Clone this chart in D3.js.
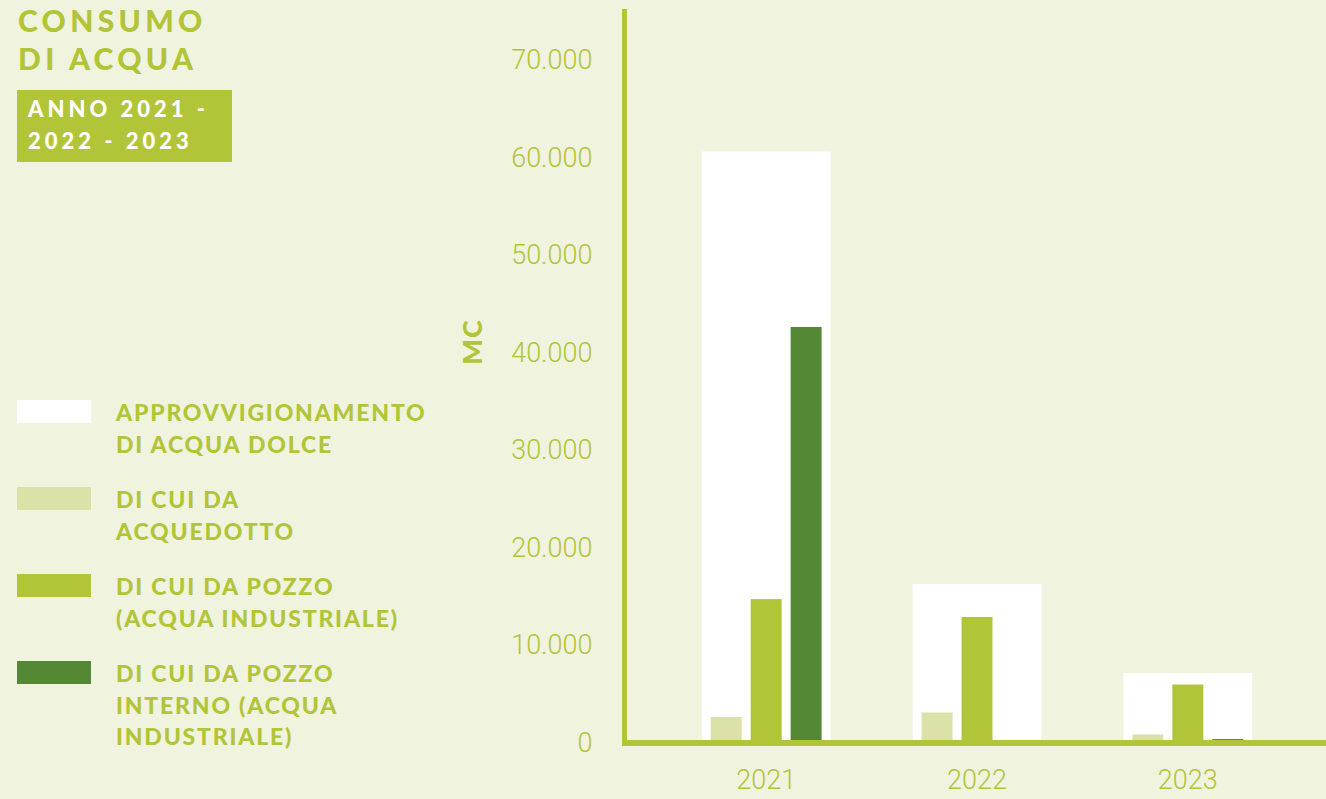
<!DOCTYPE html>
<html lang="it">
<head>
  <meta charset="UTF-8" />
  <title>Consumo di acqua</title>
  <script src="https://d3js.org/d3.v7.min.js"></script>
  <style>
    body {
      margin: 0;
      background: #f0f3de;
      overflow: hidden;
    }
    svg { display: block; }
    .tick text {
      font-family: Roboto, sans-serif;
      font-weight: 300;
      fill: #b2c437;
    }
    .bold {
      font-family: Lato, sans-serif;
      font-weight: 900;
    }
  </style>
</head>
<body>
  <svg id="chart"></svg>
  <script>
    // data (MC)
    const years = ["2021", "2022", "2023"];
    const seriesKeys = ["totale", "acquedotto", "pozzo", "pozzoInterno"];
    const totale = [60400, 16050, 6920];
    const acquedotto = [2410, 2870, 620];
    const pozzo = [14500, 12670, 5740];
    const pozzoInterno = [42410, 0, 150];
    const yTicks = [0, 10000, 20000, 30000, 40000, 50000, 60000, 70000];
    const legendLabels = [
      ["APPROVVIGIONAMENTO", "DI ACQUA DOLCE"],
      ["DI CUI DA", "ACQUEDOTTO"],
      ["DI CUI DA POZZO", "(ACQUA INDUSTRIALE)"],
      ["DI CUI DA POZZO", "INTERNO (ACQUA", "INDUSTRIALE)"]
    ];

    const colors = {
      totale: "#ffffff",
      acquedotto: "#dbe1a7",
      pozzo: "#b2c437",
      pozzoInterno: "#558834"
    };
    const green = "#b2c437";

    const W = 1326, H = 799;
    const svg = d3.select("#chart").attr("width", W).attr("height", H);

    const it = d3.formatLocale({ decimal: ",", thousands: ".", grouping: [3], currency: ["€", ""] });

    const x = d3.scaleBand().domain(years).range([626.5, 1327.5])
      .paddingInner(0.389).paddingOuter(0.357);
    const sub = d3.scaleBand().domain(["acquedotto", "pozzo", "pozzoInterno"])
      .range([0, x.bandwidth()]).padding(0.225);
    const y = d3.scaleLinear().domain([0, 70000]).range([740.5, 58]);

    const values = { totale, acquedotto, pozzo, pozzoInterno };

    // white total bars
    svg.append("g").selectAll("rect")
      .data(years)
      .join("rect")
      .attr("x", d => x(d))
      .attr("y", (d, i) => y(totale[i]))
      .attr("width", x.bandwidth())
      .attr("height", (d, i) => y(0) - y(totale[i]))
      .attr("fill", colors.totale);

    // sub bars
    ["acquedotto", "pozzo", "pozzoInterno"].forEach(key => {
      svg.append("g").selectAll("rect")
        .data(years)
        .join("rect")
        .attr("x", d => x(d) + sub(key))
        .attr("y", (d, i) => y(values[key][i]))
        .attr("width", sub.bandwidth())
        .attr("height", (d, i) => y(0) - y(values[key][i]))
        .attr("fill", colors[key]);
    });

    // axes
    const yAxis = svg.append("g")
      .attr("transform", "translate(624.5,2)")
      .call(d3.axisLeft(y).tickValues(yTicks).tickSize(0).tickPadding(32)
        .tickFormat(d => it.format(",")(d)));
    yAxis.select(".domain").remove();
    yAxis.selectAll("text").attr("font-size", 27);

    const xAxis = svg.append("g")
      .attr("transform", "translate(0,743)")
      .call(d3.axisBottom(x).tickSize(0).tickPadding(27));
    xAxis.select(".domain").remove();
    xAxis.selectAll("text").attr("font-size", 27);

    svg.append("line")
      .attr("x1", 624.5).attr("x2", 624.5).attr("y1", 9).attr("y2", 746)
      .attr("stroke", green).attr("stroke-width", 5);
    svg.append("line")
      .attr("x1", 622).attr("x2", W).attr("y1", 743).attr("y2", 743)
      .attr("stroke", green).attr("stroke-width", 6);

    svg.append("text")
      .attr("class", "bold")
      .attr("transform", "translate(482,342) rotate(-90)")
      .attr("text-anchor", "middle")
      .attr("font-size", 27)
      .attr("letter-spacing", 1)
      .attr("fill", green)
      .text("MC");

    // title
    const title = svg.append("text")
      .attr("class", "bold")
      .attr("font-size", 30)
      .attr("letter-spacing", 4.3)
      .attr("fill", green);
    ["CONSUMO", "DI ACQUA"].forEach((t, i) => {
      title.append("tspan").attr("x", 18).attr("y", 32 + i * 38).text(t);
    });

    svg.append("rect")
      .attr("x", 17).attr("y", 90).attr("width", 215).attr("height", 72)
      .attr("fill", green);
    const badge = svg.append("text")
      .attr("class", "bold")
      .attr("font-size", 22)
      .attr("letter-spacing", 4)
      .attr("fill", "#ffffff");
    ["ANNO 2021 -", "2022 - 2023"].forEach((t, i) => {
      badge.append("tspan").attr("x", 28).attr("y", 117 + i * 32).text(t);
    });

    // legend
    const legend = svg.append("g");
    seriesKeys.forEach((key, i) => {
      const top = 400 + i * 87;
      legend.append("rect")
        .attr("x", 17).attr("y", top).attr("width", 74).attr("height", 23)
        .attr("fill", colors[key]);
      const t = legend.append("text")
        .attr("class", "bold")
        .attr("font-size", 23)
        .attr("letter-spacing", 1.8)
        .attr("fill", green);
      legendLabels[i].forEach((line, j) => {
        t.append("tspan").attr("x", 116).attr("y", top + 21 + j * 31.5).text(line);
      });
    });
  </script>
</body>
</html>
